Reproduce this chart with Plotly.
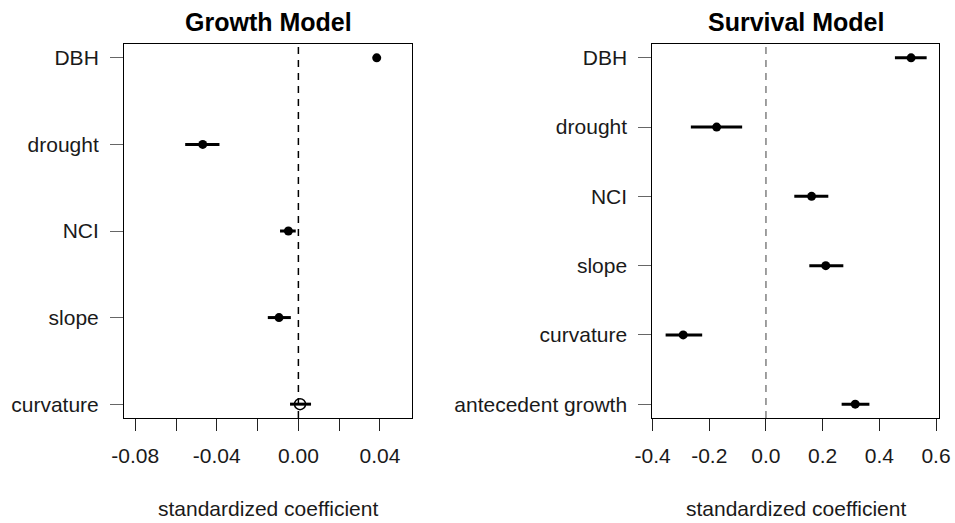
import plotly.graph_objects as go

# ---- Growth model: standardized coefficients with confidence intervals ----
growth_vars = ["DBH", "drought", "NCI", "slope", "curvature"]
growth_est = [0.0384, -0.0469, -0.0049, -0.0095, 0.0008]
growth_lo = [0.0371, -0.0555, -0.0090, -0.0150, -0.0041]
growth_hi = [0.0397, -0.0387, -0.0013, -0.0037, 0.0062]
growth_sig = [True, True, True, True, False]

# ---- Survival model ----
surv_vars = ["DBH", "drought", "NCI", "slope", "curvature", "antecedent growth"]
surv_est = [0.512, -0.174, 0.161, 0.211, -0.292, 0.315]
surv_lo = [0.455, -0.265, 0.100, 0.153, -0.354, 0.267]
surv_hi = [0.567, -0.084, 0.220, 0.273, -0.225, 0.365]
surv_sig = [True, True, True, True, True, True]

growth_ticks = [-0.08, -0.06, -0.04, -0.02, 0.00, 0.02, 0.04]
growth_ticktext = ["-0.08", "", "-0.04", "", "0.00", "", "0.04"]
surv_ticks = [-0.4, -0.2, 0.0, 0.2, 0.4, 0.6]
surv_ticktext = ["-0.4", "-0.2", "0.0", "0.2", "0.4", "0.6"]

W, H = 955, 523
FONT = "Liberation Sans, Arial, Helvetica, sans-serif"
TXT = "#1a1a1a"


def px_x(p):
    return p / W


def px_y(p):
    return 1 - p / H


fig = go.Figure()


def add_panel(vars_, est, lo, hi, sig, xa, ya):
    n = len(vars_)
    pos = list(range(n, 0, -1))
    plus = [h - e for h, e in zip(hi, est)]
    minus = [e - l for e, l in zip(est, lo)]
    # interval lines
    fig.add_trace(go.Scatter(
        x=est, y=pos, mode="markers", xaxis=xa, yaxis=ya,
        marker=dict(size=1, color="rgba(0,0,0,0)"),
        error_x=dict(type="data", symmetric=False, array=plus, arrayminus=minus,
                     width=0, thickness=3, color="black"),
        showlegend=False, hoverinfo="skip"))
    sx = [e for e, s in zip(est, sig) if s]
    sy = [p for p, s in zip(pos, sig) if s]
    nx = [e for e, s in zip(est, sig) if not s]
    ny = [p for p, s in zip(pos, sig) if not s]
    fig.add_trace(go.Scatter(
        x=sx, y=sy, mode="markers", xaxis=xa, yaxis=ya,
        marker=dict(size=9, color="black", symbol="circle"),
        showlegend=False))
    if nx:
        fig.add_trace(go.Scatter(
            x=nx, y=ny, mode="markers", xaxis=xa, yaxis=ya,
            marker=dict(size=11, color="black", symbol="circle-open",
                        line=dict(width=1.5)),
            showlegend=False))
    return pos


gpos = add_panel(growth_vars, growth_est, growth_lo, growth_hi, growth_sig, "x", "y")
spos = add_panel(surv_vars, surv_est, surv_lo, surv_hi, surv_sig, "x2", "y2")

ydom = [px_y(418), px_y(44)]
common_x = dict(showline=True, linecolor="black", linewidth=1, mirror=True,
                ticks="outside", ticklen=12, tickwidth=1, tickcolor="#222",
                showgrid=False, zeroline=False, automargin=False,
                tickfont=dict(family=FONT, size=21, color=TXT),
                ticklabelstandoff=7)
common_y = dict(showline=True, linecolor="black", linewidth=1, mirror=True,
                ticks="outside", ticklen=13, tickwidth=1, tickcolor="#666",
                showgrid=False, zeroline=False, automargin=False,
                tickfont=dict(family=FONT, size=21, color=TXT),
                ticklabelstandoff=7)

fig.update_layout(
    width=W, height=H,
    margin=dict(l=0, r=0, t=0, b=0, autoexpand=False),
    paper_bgcolor="white", plot_bgcolor="white",
    xaxis=dict(domain=[px_x(124), px_x(412)], range=[-0.0855, 0.0557],
               tickvals=growth_ticks, ticktext=growth_ticktext, anchor="y",
               **common_x),
    yaxis=dict(domain=ydom, range=[0.84, 5.16], tickvals=gpos,
               ticktext=growth_vars, anchor="x", **common_y),
    xaxis2=dict(domain=[px_x(652.3), px_x(939.3)], range=[-0.401, 0.6116],
                tickvals=surv_ticks, ticktext=surv_ticktext, anchor="y2",
                **common_x),
    yaxis2=dict(domain=ydom, range=[0.8, 6.2], tickvals=spos,
                ticktext=surv_vars, anchor="x2", **common_y),
)

# zero reference lines
fig.add_shape(type="line", xref="x", yref="y domain", x0=0, x1=0, y0=0, y1=1,
              line=dict(color="black", width=1.5, dash="7px,6px"), layer="below")
fig.add_shape(type="line", xref="x2", yref="y2 domain", x0=0, x1=0, y0=0, y1=1,
              line=dict(color="#808080", width=1.5, dash="7px,6px"), layer="below")

# panel titles and x-axis titles
for cx, title in [((124 + 412) / 2, "Growth Model"), ((652.3 + 939.3) / 2, "Survival Model")]:
    fig.add_annotation(x=px_x(cx), y=px_y(22), xref="paper", yref="paper",
                       text="<b>" + title + "</b>", showarrow=False,
                       xanchor="center", yanchor="middle",
                       font=dict(family=FONT, size=25, color="black"))
    fig.add_annotation(x=px_x(cx), y=px_y(508), xref="paper", yref="paper",
                       text="standardized coefficient", showarrow=False,
                       xanchor="center", yanchor="middle",
                       font=dict(family=FONT, size=21, color=TXT))

fig.write_html("out.html")
